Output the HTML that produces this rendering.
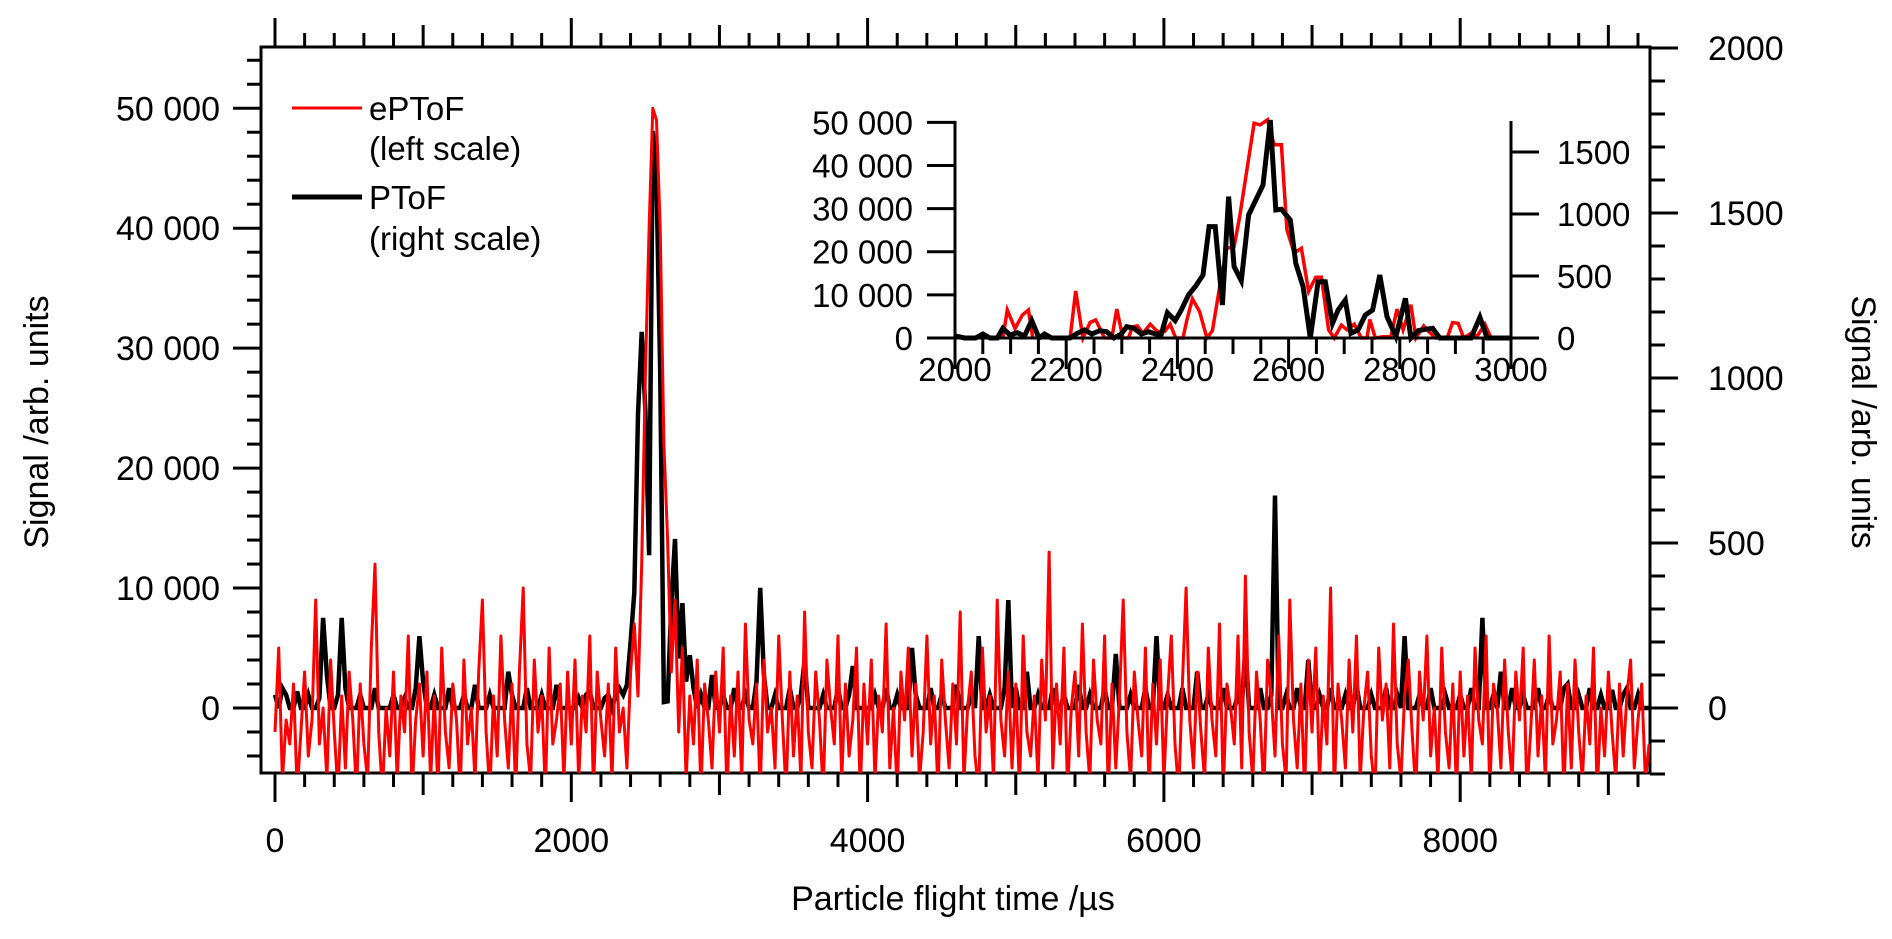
<!DOCTYPE html>
<html><head><meta charset="utf-8"><style>
html,body{margin:0;padding:0;background:#fff;}
svg{display:block;font-family:"Liberation Sans",Arial,sans-serif;}
</style></head><body>
<svg id="chart" width="1892" height="939" viewBox="0 0 1892 939" xmlns="http://www.w3.org/2000/svg">
<rect x="0" y="0" width="1892" height="939" fill="#fff"/>
<g id="main-axes"></g>
<g id="main-series"></g>
<g id="inset"></g>
<g font-size="33">
<line x1="292" y1="108" x2="362" y2="108" stroke="#f00" stroke-width="3"/>
<text x="369" y="120">ePToF</text>
<text x="369" y="160">(left scale)</text>
<line x1="292" y1="197" x2="362" y2="197" stroke="#000" stroke-width="5"/>
<text x="369" y="209">PToF</text>
<text x="369" y="250">(right scale)</text>
</g>
<text font-size="34" text-anchor="middle" transform="translate(48,422) rotate(-90)">Signal /arb. units</text>
<text font-size="34" text-anchor="middle" transform="translate(1852,422) rotate(90)">Signal /arb. units</text>
<text font-size="34" text-anchor="middle" x="953" y="910">Particle flight time /µs</text>
</svg>
<script>
// ---- main chart data (25 µs bins) ----
const mainT0 = 0;
const mainStep = 25;
const eptofK = [
-2,5,-6,-1,-3,2,-7,-2,3,-4,-1,9,-3,0,-6,4,-2,-7,1,-5,3,-1,-7,2,-3,-6,5,12,-2,-7,0,-4,3,-6,1,-2,6,-7,-1,2,
-4,3,-6,1,-7,5,-2,-5,2,-1,-7,4,-3,0,-6,3,9,-2,-7,1,-4,6,-1,-5,2,-7,3,10,-3,-6,4,-2,1,-7,5,-3,-1,2,-6,3,
-3,4,-6,1,-2,6,-7,3,-1,-4,2,-6,5,-2,0,-5,3,7,1,12,28,40,50,49,40,22,14,3,9,-2,5,-6,1,-3,4,-7,2,-1,-5,3,
-2,5,-7,1,-4,3,-6,7,-1,-3,2,-7,4,-2,0,-5,6,-1,-7,3,-4,1,-6,8,-2,-5,3,-1,-7,4,0,-3,6,-6,2,-4,-1,5,-7,2,
-3,4,-6,1,-2,7,-5,0,-7,3,-1,5,-4,2,-6,-2,6,-3,1,-7,4,-1,-5,2,-3,8,-6,0,3,-4,-7,5,-2,1,-6,9,-1,-4,3,-5,
2,-7,6,-2,-4,1,-6,4,-1,13,-5,2,-3,5,-7,0,3,-4,7,-2,-6,4,-1,-3,6,-7,2,-5,1,9,-2,-6,3,-1,-4,5,-7,2,-3,4,
-6,1,6,-3,-7,2,10,-1,-5,3,-2,-6,5,-1,-4,7,-7,2,0,-3,6,-5,11,-2,-6,3,-1,-7,4,1,-4,6,-3,-6,9,-1,-5,2,-7,4,
-2,5,-6,1,-3,10,-7,2,-1,-5,4,-2,6,-6,0,3,-4,-7,5,-1,2,-5,7,-3,-6,1,4,-2,-7,3,-1,6,-4,0,-6,5,-2,-5,2,-7,
3,-4,1,-6,5,-1,-3,6,-7,2,0,-5,4,-2,-6,3,-1,5,-7,-2,4,-4,1,-6,6,-3,-1,3,-7,2,-5,4,-2,-6,1,-3,5,-7,0,-4,
3,-2,-6,2,-4,1,4,-5,-1,2,-6,-3
];
const ptof = [
40,0,60,40,0,0,50,0,0,40,0,0,30,273,100,0,0,40,273,60,0,0,0,40,0,0,0,60,0,0,0,0,40,0,0,30,0,0,60,218,
80,0,0,40,0,0,0,60,0,0,0,40,0,0,70,0,0,0,40,0,0,0,0,110,40,0,0,0,60,0,0,0,40,0,0,0,70,0,0,0,
0,0,30,0,40,50,0,0,0,30,40,0,40,60,40,70,200,350,890,1140,900,463,1748,1600,1018,18,20,315,512,150,318,80,160,60,0,40,0,0,100,0,
0,40,0,0,60,0,0,40,0,0,80,364,100,0,0,40,0,0,0,60,0,0,40,145,0,0,0,0,40,0,0,0,60,0,0,40,127,0,0,0,
0,0,40,0,0,60,0,0,40,0,0,0,182,40,0,0,0,60,0,0,40,0,0,0,70,0,0,0,40,0,218,0,0,40,0,0,0,60,327,0,
60,0,0,110,0,0,40,0,0,0,60,0,0,40,0,0,0,70,0,0,40,0,0,0,60,0,0,164,0,0,0,40,0,0,0,60,0,0,218,0,
0,40,0,0,0,60,0,0,0,110,0,0,40,0,0,0,60,0,0,0,40,0,182,0,0,0,60,0,0,40,644,0,0,40,0,0,60,0,0,145,
0,0,40,0,0,60,0,0,0,40,0,0,70,0,0,0,40,0,0,0,60,0,0,40,0,218,0,0,0,40,0,0,60,0,0,0,40,0,0,0,
40,0,0,60,0,0,273,0,0,40,0,110,0,0,60,0,0,40,0,0,0,60,0,0,40,0,0,0,60,73,0,0,40,0,0,60,0,0,40,0,
0,55,0,0,40,60,0,0,40,0,0,0
];
const xTicksMain = [0,2000,4000,6000,8000];
const yTicksLeft = [0,10000,20000,30000,40000,50000];
const yTickLabelsLeft = ["0","10 000","20 000","30 000","40 000","50 000"];
const yTicksRight = [0,500,1000,1500,2000];

// ---- inset data ----
const insetRedT = [2086,2094,2108,2121,2132,2140,2175,2207,2217,2230,2243,2253,2269,2282,2291,2302,2312,2319,2328,2338,2351,2364,2377,2387,2397,2410,2417,2427,2440,2453,2463,2476,2489,2502,2512,2538,2549,2562,2574,2587,2597,2610,2623,2636,2649,2659,2672,2682,2695,2705,2718,2731,2741,2746,2756,2770,2784,2795,2806,2820,2829,2843,2852,2865,2885,2895,2905,2915,2928,2939,2953,2964];
const insetRedV = [0,6500,2200,5300,6500,0,null,0,10900,0,3600,4200,0,0,6700,0,0,2600,2800,1100,3200,1500,1500,3200,0,0,4200,9100,6100,0,1700,11900,20800,21200,28200,49800,49400,50600,44800,44800,25100,19700,20800,10800,14100,14100,1900,0,3000,1900,3200,0,0,4300,0,300,300,6700,1900,7700,0,2800,1500,0,0,3600,3400,0,1100,400,3200,0];
const insetBlackT = [2001,2017,2037,2050,2063,2076,2086,2099,2112,2125,2138,2151,2161,2174,2188,2207,2220,2233,2246,2260,2273,2286,2299,2309,2322,2335,2348,2361,2371,2382,2396,2407,2420,2433,2446,2457,2468,2481,2492,2502,2515,2528,2541,2554,2567,2577,2587,2603,2613,2626,2639,2653,2666,2679,2689,2702,2712,2725,2738,2751,2764,2777,2793,2810,2820,2833,2846,2859,2872,2888,2908,2928,2944,2957,2974,3000];
const insetBlackV = [16,0,0,32,0,0,78,24,43,16,140,0,32,0,0,0,38,65,32,59,51,0,32,91,78,32,51,32,32,204,140,226,347,419,508,898,898,266,1140,575,462,992,1113,1234,1758,1032,1038,952,602,414,0,454,454,118,226,306,38,65,185,226,508,172,11,320,0,59,70,78,0,0,0,0,167,0,0,0];
const insetXTicks = [2000,2200,2400,2600,2800,3000];
const insetYTicksLeft = [0,10000,20000,30000,40000,50000];
const insetYLabelsLeft = ["0","10 000","20 000","30 000","40 000","50 000"];
const insetYTicksRight = [0,500,1000,1500];

// ---- scales ----
const PL=261, PR=1650, PT=47, PB=773;
function xM(t){return 275 + t*0.14815;}
function yL(v){return 708 - v*0.011995;}
function yR(v){return 708 - v*0.33;}
const IL=955, IR=1511, IT=121, IB=338;
function xI(t){return IL + (t-2000)*0.556;}
function yIL(v){return IB - v*0.004313;}
function yIR(v){return IB - v*0.124;}

const NS="http://www.w3.org/2000/svg";
function mk(tag, attrs, parent){const e=document.createElementNS(NS,tag);for(const k in attrs)e.setAttribute(k,attrs[k]);parent.appendChild(e);return e;}
function line(p,x1,y1,x2,y2,w){return mk('line',{x1:x1,y1:y1,x2:x2,y2:y2,stroke:'#000','stroke-width':w||3},p);}
function txt(p,x,y,s,anchor,size){const e=mk('text',{x:x,y:y,'text-anchor':anchor||'middle','font-size':size||34},p);e.textContent=s;return e;}

const ax=document.getElementById('main-axes');
// frame lines
let e;
e=line(ax,PL,PT,PL,PB+1.5);  
e=line(ax,PR,PT-1.5,PR,PB+1.5);  
e=line(ax,PL-1.5,PB,PR+1.5,PB);  
e=line(ax,PL-1.5,PT,PR+1.5,PT);  
// x ticks (bottom & top)
for(let t=0;t<=9200;t+=200){
  const x=xM(t); const L = (t%2000===0)?29:((t%1000===0)?22:14);
  line(ax,x,PB,x,PB+L); line(ax,x,PT,x,PT-L);
}
xTicksMain.forEach(t=>{const el=txt(ax,xM(t),852,String(t));

});
// left ticks
for(let v=-4000;v<=54000;v+=2000){const y=yL(v); if(y<PT||y>PB)continue; line(ax,PL,y,PL-((v%10000===0)?28:14),y);}
yTicksLeft.forEach((v,i)=>{const el=txt(ax,220,yL(v)+12,yTickLabelsLeft[i],'end');

});
// right ticks
for(let v=-200;v<=2000;v+=100){const y=yR(v); if(y<PT-1||y>PB+1)continue; line(ax,PR,y,PR+((v%500===0)?28:15),y);}
yTicksRight.forEach(v=>{const el=txt(ax,1708,yR(v)+12,String(v),'start');

});

// clip path for main plot
const defs=mk('defs',{},document.getElementById('chart'));
const cp=mk('clipPath',{id:'mainclip'},defs); mk('rect',{x:PL,y:PT,width:PR-PL,height:PB-PT},cp);
const ms=document.getElementById('main-series'); ms.setAttribute('clip-path','url(#mainclip)');
let pts=ptof.map((v,i)=>xM(mainT0+i*mainStep).toFixed(1)+','+yR(v).toFixed(1)).join(' ');
const blk=mk('polyline',{points:pts,fill:'none',stroke:'#000','stroke-width':4.5,'stroke-linejoin':'miter'},ms);


pts=eptofK.map((v,i)=>xM(mainT0+i*mainStep).toFixed(1)+','+yL(v*1000).toFixed(1)).join(' ');
const red=mk('polyline',{points:pts,fill:'none',stroke:'#f00','stroke-width':3,'stroke-linejoin':'round'},ms);



// ---- inset ----
const ins=document.getElementById('inset');
mk('rect',{x:IL,y:IT,width:IR-IL,height:IB-IT,fill:'#fff'},ins);
// red segments (split at null)
let seg=[];
function flushRed(){ if(seg.length>1){const p=mk('polyline',{points:seg.join(' '),fill:'none',stroke:'#f00','stroke-width':3.5},ins);

} seg=[]; }
insetRedT.forEach((t,i)=>{const v=insetRedV[i]; if(v===null){flushRed();return;} seg.push(xI(t).toFixed(1)+','+yIL(v).toFixed(1));});
flushRed();
pts=insetBlackT.map((t,i)=>xI(t).toFixed(1)+','+yIR(insetBlackV[i]).toFixed(1)).join(' ');
const ib=mk('polyline',{points:pts,fill:'none',stroke:'#000','stroke-width':5},ins);


// inset axes
e=line(ins,IL,yIL(50000)-1.5,IL,IB+1.5);  
e=line(ins,IR,IT,IR,IB+1.5);  
e=line(ins,IL-1.5,IB,IR+1.5,IB);  
for(let t=2000;t<=3000;t+=50){const x=xI(t); line(ins,x,IB,x,IB+((t%200===0)?31:16));}
insetXTicks.forEach(t=>{const el=txt(ins,xI(t),381,String(t),'middle',33);

});
insetYTicksLeft.forEach((v,i)=>{line(ins,IL,yIL(v),IL-28,yIL(v));
const el=txt(ins,913,yIL(v)+12,insetYLabelsLeft[i],'end',33);

});
insetYTicksRight.forEach(v=>{line(ins,IR,yIR(v),IR+28,yIR(v));
const el=txt(ins,1557,yIR(v)+12,String(v),'start',33);

});
</script>
</body></html>
